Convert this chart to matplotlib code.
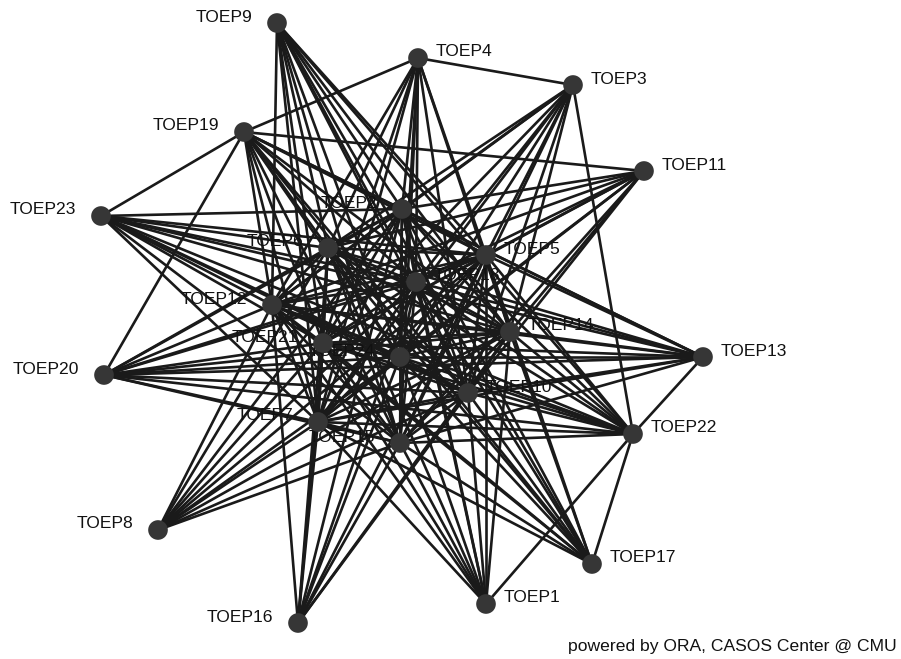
import matplotlib
matplotlib.use("Agg")
import matplotlib.pyplot as plt

# node layout (pixel coordinates of the original ORA drawing)
names = ["TOEP9", "TOEP4", "TOEP3", "TOEP19", "TOEP11", "TOEP23", "TOEP2", "TOEP6",
         "TOEP5", "TOEP18", "TOEP12", "TOEP14", "TOEP21", "TOEP24", "TOEP13", "TOEP20",
         "TOEP10", "TOEP7", "TOEP15", "TOEP22", "TOEP8", "TOEP17", "TOEP1", "TOEP16"]
xs = [277, 418, 573, 244, 644, 101, 402, 328,
      486, 416, 272, 510, 323, 400, 703, 104,
      468, 318, 400, 633, 158, 592, 486, 298]
ys = [23, 58, 85, 132, 171, 216, 209, 248,
      255, 282, 305, 332, 343, 357, 357, 375,
      393, 422, 443, 434, 530, 564, 604, 623]
# which side the label sits on: 1 right, -1 left
sides = [-1, 1, 1, -1, 1, -1, -1, -1,
         1, 1, -1, 1, -1, -1, 1, -1,
         1, -1, -1, 1, -1, 1, 1, -1]

inner = ["TOEP2", "TOEP6", "TOEP5", "TOEP18", "TOEP12", "TOEP14", "TOEP21",
         "TOEP24", "TOEP10", "TOEP7", "TOEP15"]
outer = [n for n in names if n not in inner]
extra_edges = [("TOEP4", "TOEP3"), ("TOEP4", "TOEP19"), ("TOEP19", "TOEP23"),
               ("TOEP19", "TOEP20"), ("TOEP19", "TOEP11"), ("TOEP3", "TOEP22"),
               ("TOEP13", "TOEP22"), ("TOEP22", "TOEP17"), ("TOEP22", "TOEP1"),
               ("TOEP9", "TOEP17"), ("TOEP19", "TOEP17"), ("TOEP23", "TOEP22"),
               ("TOEP20", "TOEP22"), ("TOEP23", "TOEP13"), ("TOEP20", "TOEP13"),
               ("TOEP19", "TOEP13"), ("TOEP9", "TOEP22")]

edges = []
for i, a in enumerate(inner):
    for b in inner[i + 1:]:
        edges.append((a, b))
for a in outer:
    for b in inner:
        edges.append((a, b))
edges += extra_edges

pos = {n: (x, y) for n, x, y in zip(names, xs, ys)}

fig = plt.figure(figsize=(9.01, 6.59), dpi=100)
ax = fig.add_axes([0, 0, 1, 1])
ax.set_xlim(0, 901)
ax.set_ylim(659, 0)
ax.axis("off")

for a, b in edges:
    ax.plot([pos[a][0], pos[b][0]], [pos[a][1], pos[b][1]],
            color="#1a1a1a", lw=1.9, solid_capstyle="round", zorder=1)

ax.scatter(xs, ys, s=200, color="#363636", zorder=3, edgecolors="none")

fs = 12.6
for n, x, y, s in zip(names, xs, ys, sides):
    if s > 0:
        ax.text(x + 18, y - 6, n, ha="left", va="center", fontsize=fs,
                family="Liberation Sans", color="#111111", zorder=2)
    else:
        ax.text(x - 25, y - 6, n, ha="right", va="center", fontsize=fs,
                family="Liberation Sans", color="#111111", zorder=2)

ax.text(897, 647, "powered by ORA, CASOS Center @ CMU", ha="right", va="center",
        fontsize=fs, family="Liberation Sans", color="#111111")

fig.savefig("out.png", dpi=100)
